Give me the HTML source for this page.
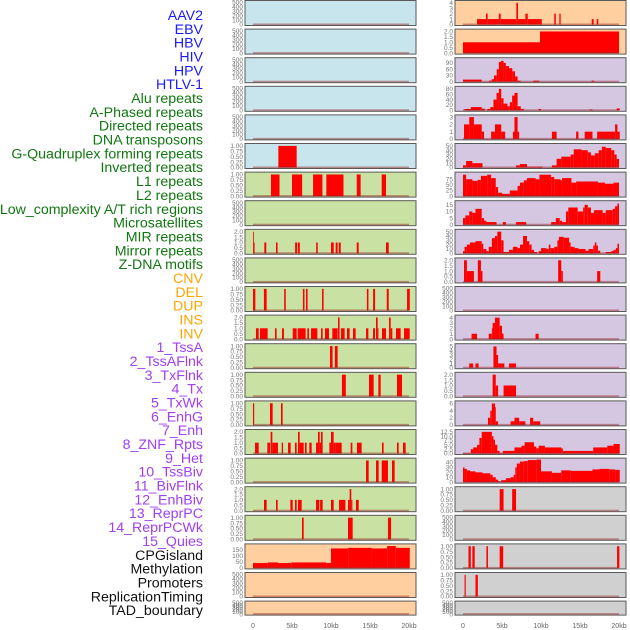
<!DOCTYPE html>
<html><head><meta charset="utf-8"><style>
html,body{margin:0;padding:0;background:#fff;}
svg{display:block;font-family:"Liberation Sans",sans-serif;}
</style></head><body>
<svg id="chart" width="630" height="630" xmlns="http://www.w3.org/2000/svg"></svg>
<script>
const labelNames = ["AAV2","EBV","HBV","HIV","HPV","HTLV-1","Alu repeats","A-Phased repeats","Directed repeats","DNA transposons","G-Quadruplex forming repeats","Inverted repeats","L1 repeats","L2 repeats","Low_complexity A/T rich regions","Microsatellites","MIR repeats","Mirror repeats","Z-DNA motifs","CNV","DEL","DUP","INS","INV","1_TssA","2_TssAFlnk","3_TxFlnk","4_Tx","5_TxWk","6_EnhG","7_Enh","8_ZNF_Rpts","9_Het","10_TssBiv","11_BivFlnk","12_EnhBiv","13_ReprPC","14_ReprPCWk","15_Quies","CPGisland","Methylation","Promoters","ReplicationTiming","TAD_boundary"];
const labelColors = ["#1a1aff","#1a1aff","#1a1aff","#1a1aff","#1a1aff","#1a1aff","#117711","#117711","#117711","#117711","#117711","#117711","#117711","#117711","#117711","#117711","#117711","#117711","#117711","#ffa500","#ffa500","#ffa500","#ffa500","#ffa500","#a040f0","#a040f0","#a040f0","#a040f0","#a040f0","#a040f0","#a040f0","#a040f0","#a040f0","#a040f0","#a040f0","#a040f0","#a040f0","#a040f0","#a040f0","#111","#111","#111","#111","#111"];
const xTicks = [0,5,10,15,20];
const xTickLabels = ["0","5kb","10kb","15kb","20kb"];

const T500 = [0,100,200,300,400,500], T500L = ["0","100","200","300","400","500"];
const T1 = [0,0.25,0.5,0.75,1], T1L = ["0.00","0.25","0.50","0.75","1.00"];
const T2 = [0,0.5,1,1.5,2], T2L = ["0.0","0.5","1.0","1.5","2.0"];

// segments: [startKb, endKb, value]
const L6 = [[3.25,5.6,1]];
const L7 = [[2.3,3.4,1],[5.0,6.3,1],[7.7,8.9,1],[9.4,11.6,1],[13.3,13.8,1],[16.5,17.05,1]];
const L9 = [[0,0.1,2],[0.1,0.2,1],[1.45,1.7,1],[2.95,3.15,1],[5.4,5.65,1],[5.75,6.0,1],[8.1,8.3,1],[10,10.35,1],[10.6,10.85,1],[11,11.25,1],[13.3,13.55,1],[17.05,17.4,1]];
const L11 = [[0,0.3,1],[1.4,1.75,1],[4,4.2,1],[6.4,6.6,1],[6.8,7.0,1],[8.85,9.05,1],[14.6,14.8,1],[15.4,15.65,1],[17.15,17.4,1],[19.75,20.1,1]];
const L12 = [[0.38,0.73,1],[0.9,1.88,1],[2.82,3.03,1],[3.72,3.97,1],[5.09,5.6,1],[5.73,6.75,1],[6.97,7.18,1],[7.44,8.25,1],[8.72,8.93,1],[9.23,9.74,1],[10.17,10.85,1],[10.9,11.1,2],[11.28,11.75,1],[12.05,12.39,1],[12.82,13.16,1],[14.49,14.79,1],[15.38,15.64,1],[15.77,15.98,2],[15.98,16.07,1],[16.54,17.05,1],[17.44,17.65,2],[17.65,17.86,1],[18.33,18.93,1],[19.36,20.09,1]];
const L13 = [[9.87,10.2,1],[10.5,10.85,1]];
const L14 = [[11.4,11.9,1],[14.87,15.47,1],[16.07,16.37,1],[18.46,19.1,1]];
const L15 = [[0,0.15,1],[2.18,2.52,1],[3.59,3.8,1]];
const L16 = [[0.26,0.73,1],[1.84,2.18,1],[2.26,2.48,2],[2.48,3.2,1],[3.68,3.85,1],[4.49,4.83,1],[5.38,5.6,1],[5.77,5.98,2],[5.98,6.5,1],[6.67,6.88,1],[7.22,7.52,1],[8.08,8.33,1],[8.33,8.55,2],[8.55,8.72,1],[8.72,8.93,2],[9.79,10.0,1],[10.0,10.34,2],[10.34,10.6,1],[10.6,11.37,1],[12.52,12.74,1],[13.33,13.93,1],[16.54,16.75,1],[18.46,18.68,1],[19.23,19.57,1]];
const L17 = [[14.49,14.83,1],[15.77,16.11,1],[16.5,17.3,1],[17.82,18.16,1]];
const L18 = [[1.41,1.75,1],[2.95,3.16,1],[4.79,5.09,1],[5.38,5.6,1],[5.77,6.24,1],[8.08,8.5,1],[8.6,8.93,1],[10,10.34,1],[11.03,11.84,1],[12.18,12.39,1],[12.39,12.6,2],[12.6,12.74,1],[13.2,13.55,1]];
const L19 = [[6.28,6.5,1],[12.18,12.78,1],[17.3,17.7,1]];
const L20 = [[0,1.9,40],[1.9,3.2,45],[3.2,4.9,40],[4.9,9.4,45],[9.4,10,40],[10,12.2,160],[12.2,15.2,165],[15.2,17.2,160],[17.2,18.3,180],[18.3,20.1,165]];

const R1 = [[1.8,2.95,1],[2.95,3.16,2],[3.16,4.6,1],[4.6,4.83,2],[4.83,6.84,1],[6.84,7.05,4],[7.05,8.0,1],[8.0,8.3,2],[8.3,10.1,1],[11.7,11.9,2],[12.35,12.52,2],[16.5,16.75,1],[17.14,17.35,1]];
const R2 = [[0,9.87,1],[9.87,20,2]];
const R3 = [[0,2.4,10],[3.33,3.68,5],[3.68,3.97,12],[3.97,4.32,30],[4.32,4.6,60],[4.6,4.87,95],[4.87,5.2,100],[5.2,5.5,90],[5.5,5.9,75],[5.9,6.32,65],[6.32,6.67,50],[6.67,7.0,25],[7.0,7.4,5],[9.0,9.8,5],[16.5,16.8,5]];
const R4 = [[0.2,1.0,5],[1.0,2.4,12],[2.4,2.8,6],[3.1,3.5,5],[3.5,3.9,12],[3.9,4.3,40],[4.3,4.6,65],[4.6,4.9,80],[4.9,5.2,45],[5.2,5.7,25],[5.7,6.0,15],[6.0,6.3,30],[6.3,6.6,55],[6.6,7.0,65],[7.0,7.4,15],[7.4,7.8,5],[9.7,10,5],[16.2,16.6,3],[19.7,20.1,7]];
const R5 = [[0.13,0.8,2],[0.8,1.4,3],[1.4,2.4,2],[2.4,2.7,1],[3.6,4.1,1],[4.1,4.9,2],[4.9,5.4,1],[6.4,6.6,1],[6.6,7.0,3],[7.0,7.2,1],[11.4,12.0,1],[14.5,14.8,1],[15.6,16.6,1],[17.2,19.5,1],[19.5,19.8,2],[19.8,20.1,1]];
const R6 = [[0,0.4,5],[0.4,1.2,15],[1.2,2.5,10],[6.8,7.3,5],[7.3,8.2,8],[8.2,10.2,2],[11.4,12,5],[12,12.6,20],[12.6,13.8,25],[13.8,14.2,30],[14.2,15.2,42],[15.2,16.0,40],[16.0,16.4,35],[16.4,16.9,28],[16.9,17.4,33],[17.4,17.8,40],[17.8,18.3,48],[18.3,19.0,45],[19.0,19.4,40],[19.4,19.7,30],[19.7,20.0,20]];
const R7 = [[0,0.4,95],[0.4,1.2,75],[1.2,1.9,68],[1.9,2.3,72],[2.3,3.1,90],[3.1,3.6,95],[3.6,4.2,80],[4.2,4.5,40],[4.5,5.0,15],[5.0,6.0,10],[6.0,7.0,25],[7.0,7.3,45],[7.3,7.8,60],[7.8,8.2,70],[8.2,9.3,80],[9.3,9.8,75],[9.8,11.3,95],[11.3,11.7,85],[11.7,12.5,75],[12.5,12.7,70],[12.7,13.9,80],[13.9,14.5,60],[14.5,17.3,65],[17.3,18.2,60],[18.2,19.3,55],[19.3,20,60]];
const R8 = [[0,0.3,5],[0.3,0.8,7],[0.8,1.2,10],[1.2,1.6,9],[1.6,2.4,12],[2.4,2.7,5],[2.7,3.0,3],[3.0,4.3,2],[5.1,5.5,2],[6.8,8.1,2],[11.3,11.9,2],[11.9,12.4,5],[12.4,12.7,3],[12.7,13.2,2],[13.2,13.5,10],[13.5,14.7,13],[14.7,15.4,10],[15.4,15.6,13],[15.6,16,15],[16,16.4,13],[16.4,16.8,9],[16.8,17.9,11],[17.9,18.3,9],[18.3,19.2,11],[19.2,19.5,12],[19.5,19.8,14],[19.8,20,16]];
const R9 = [[0,0.2,5],[0.2,0.5,15],[0.5,0.9,20],[0.9,1.6,25],[1.6,2.4,28],[2.4,2.6,22],[2.6,3.0,10],[3.0,3.3,5],[3.3,3.7,15],[3.7,4.1,35],[4.1,4.4,40],[4.4,4.9,50],[4.9,5.2,30],[5.2,5.9,3],[5.9,6.4,8],[6.4,7.0,15],[7.0,7.3,12],[7.3,7.7,20],[7.7,8.2,40],[8.2,8.5,28],[8.5,8.8,20],[8.8,9.1,8],[9.1,9.5,3],[9.7,10,5],[10,10.7,12],[10.7,11,10],[11,11.2,20],[11.2,11.7,12],[11.7,12.1,15],[12.1,12.3,30],[12.3,12.9,38],[12.9,13.6,36],[13.6,13.8,25],[13.8,14.3,15],[14.3,14.8,12],[14.8,15.7,10],[15.7,16.1,6],[16.1,16.7,10],[16.7,16.9,18],[16.9,17.1,25],[17.1,17.3,18],[17.3,17.6,6],[18.3,19,3],[19,19.3,5],[19.3,19.6,8],[19.6,19.8,12],[19.8,20,22]];
const R10 = [[0.13,0.5,2],[0.5,1.4,1],[1.9,2.3,2],[2.3,2.5,1],[12.2,12.6,2],[12.6,12.8,1],[17.2,17.6,1]];
const R12 = [[1.1,1.8,1],[3.3,3.7,1],[3.7,3.8,2],[3.8,4.1,3],[4.1,4.7,4],[4.7,5.0,2.5],[5.0,5.2,1],[9.3,9.7,1]];
const R13 = [[0.8,1.3,1],[1.6,2.0,1],[3.9,4.3,5],[4.3,4.5,3],[4.5,5.3,1],[5.9,6.8,1]];
const R14 = [[3.8,4.2,2],[4.2,4.5,1],[5.2,6.8,1]];
const R15 = [[3.2,3.5,2],[3.5,3.7,4],[3.7,4.1,6],[4.1,4.2,5],[4.2,4.5,1],[6.1,6.6,1],[6.6,7.2,2],[7.2,8.0,1],[8.6,9.0,2],[9.0,9.9,1]];
const R16 = [[0,1,0.3],[1,1.3,2.5],[1.3,1.8,3.5],[1.8,2.1,5],[2.1,2.4,9],[2.4,3.7,12.5],[3.7,3.9,10],[3.9,4.1,8],[4.1,4.4,5],[4.4,4.7,1.5],[4.7,5.1,0.3],[5.1,6.6,1.5],[6.6,7.5,3.5],[7.5,7.9,4.5],[7.9,9.1,6.5],[9.1,9.4,4],[9.4,9.7,3],[9.7,10.5,4.5],[10.5,12.6,3.5],[12.6,12.8,3],[12.8,16.7,1.5],[16.7,18.5,3.5],[18.5,19.3,4.5],[19.3,20.1,5.5]];
const R17 = [[0,0.2,30],[0.2,0.5,27],[0.5,0.9,24],[0.9,1.6,22],[1.6,2.5,20],[2.5,3.5,18],[3.5,3.8,15],[3.8,4.2,10],[4.2,4.5,5],[4.5,4.7,2],[4.7,4.9,0.5],[4.9,5.5,4],[5.5,6.1,8],[6.1,6.5,10],[6.5,6.7,15],[6.7,6.9,30],[6.9,7.3,38],[7.3,7.8,42],[7.8,8.3,43],[8.3,9.4,45],[9.4,10,46],[10,11.4,22],[11.4,12.6,19],[12.6,13.8,24],[13.8,16.6,23],[16.6,17.5,26],[17.5,18.8,27],[18.8,19.5,26],[19.5,20.1,25]];
const R18 = [[4.7,5.2,1],[6.3,6.8,1]];
const R20 = [[0.7,1.0,1],[1.2,1.5,1],[3.0,3.2,1],[4.7,5.15,1],[19.75,20.05,1]];
const R21 = [[0.2,0.35,1],[1.6,1.9,1]];

const leftSeries = [[],[],[],[],[],L6,L7,[],L9,[],L11,L12,L13,L14,L15,L16,L17,L18,L19,L20,[],[]];
const rightSeries = [R1,R2,R3,R4,R5,R6,R7,R8,R9,R10,[],R12,R13,R14,R15,R16,R17,R18,[],R20,R21,[]];
const leftYmax = [510,510,510,510,510,1.04,1.04,510,2.08,510,1.04,2.08,1.04,1.04,1.04,2.08,1.04,2.08,1.04,185,510,510];
const rightYmax = [4.15,2.08,108,84,3.1,52,100,17,52,2.08,510,4.2,5.3,2.08,6.3,13,46,1.04,510,1.04,1.04,510];
const leftTicks = [T500,T500,T500,T500,T500,T1,T1,T500,T2,T500,T1,T2,T1,T1,T1,T2,T1,T2,T1,[0,50,100,150],T500,T500];
const leftTickLabels = [T500L,T500L,T500L,T500L,T500L,T1L,T1L,T500L,T2L,T500L,T1L,T2L,T1L,T1L,T1L,T2L,T1L,T2L,T1L,["0","50","100","150"],T500L,T500L];
const rightTicks = [[0,1,2,3,4],T2,[0,30,60,90],[0,20,40,60,80],[0,1,2,3],[0,10,20,30,40,50],[0,25,50,75],[0,5,10,15],[0,10,20,30,40,50],T2,T500,[0,1,2,3,4],[0,1,2,3,4,5],T2,[0,2,4,6],[0,2.5,5,7.5,10,12.5],[0,10,20,30,40],T1,T500,T1,T1,T500];
const rightTickLabels = [["0","1","2","3","4"],["0.0","0.5","1.0","1.5","2.0"],["0","30","60","90"],["0","20","40","60","80"],["0","1","2","3"],["0","10","20","30","40","50"],["0","25","50","75"],["0","5","10","15"],["0","10","20","30","40","50"],T2L,T500L,["0","1","2","3","4"],["0","1","2","3","4","5"],T2L,["0","2","4","6"],["0.0","2.5","5.0","7.5","10.0","12.5"],["0","10","20","30","40"],T1L,T500L,T1L,T1L,T500L];
const leftColors = ["#c8e4ec","#c8e4ec","#c8e4ec","#c8e4ec","#c8e4ec","#c8e4ec","#c9e1a2","#c9e1a2","#c9e1a2","#c9e1a2","#c9e1a2","#c9e1a2","#c9e1a2","#c9e1a2","#c9e1a2","#c9e1a2","#c9e1a2","#c9e1a2","#c9e1a2","#ffcfa0","#ffcfa0","#ffcfa0"];
const rightColors = ["#ffcfa0","#ffcfa0","#d5c6e2","#d5c6e2","#d5c6e2","#d5c6e2","#d5c6e2","#d5c6e2","#d5c6e2","#d5c6e2","#d5c6e2","#d5c6e2","#d5c6e2","#d5c6e2","#d5c6e2","#d5c6e2","#d5c6e2","#d0d0d0","#d0d0d0","#d0d0d0","#d0d0d0","#d0d0d0"];

const NS = "http://www.w3.org/2000/svg";
const svg = document.getElementById("chart");
function mk(tag, attrs, parent){ const e=document.createElementNS(NS,tag); for(const k in attrs) e.setAttribute(k,attrs[k]); (parent||svg).appendChild(e); return e; }

// labels
labelNames.forEach((n,i)=>{
  const t = mk("text",{x:203,y:20+i*13.84,"text-anchor":"end","font-size":"14.2",fill:labelColors[i]});
  
  
  t.textContent = n;
});

const cols = [
  {x0:245,x1:416,zero:253,series:leftSeries,ymax:leftYmax,ticks:leftTicks,tl:leftTickLabels,colors:leftColors,name:"left"},
  {x0:455,x1:626,zero:463,series:rightSeries,ymax:rightYmax,ticks:rightTicks,tl:rightTickLabels,colors:rightColors,name:"right"}
];
const KB = 7.8;
cols.forEach(c=>{
  const xs = kb => c.zero + kb*KB;
  for(let i=0;i<22;i++){
    const top = 0.5 + 28.6*i;
    const h = i===21 ? 14 : 25;
    const g = mk("g",{});
    
    
    const bg = mk("rect",{x:c.x0,y:top,width:c.x1-c.x0,height:h,fill:c.colors[i],stroke:"#5a5a5a","stroke-width":1},g);
    
    
    const y0 = top + h - 1, y1 = top + 1.5;
    const ys = v => y0 - (v / c.ymax[i]) * (y0 - y1);
    c.series[i].forEach(s=>{
      const r = mk("rect",{x:xs(s[0]),y:ys(s[2]),width:Math.max(0.8,xs(s[1])-xs(s[0])),height:y0-ys(s[2]),fill:"#ff0000"},g);
      
      
    });
    const bl = mk("rect",{x:xs(0),y:y0-1,width:xs(20)-xs(0),height:1.6,fill:"rgba(150,30,30,0.45)"},g);
    
    
    c.ticks[i].forEach((tv,j)=>{
      const t = mk("text",{x:c.x0-2,y:ys(tv)+2.2,"text-anchor":"end","font-size":"6.5",fill:"#777"},g);
      
      
      t.textContent = c.tl[i][j];
    });
  }
  xTicks.forEach((v,j)=>{
    const t = mk("text",{x:xs(v),y:628,"text-anchor":"middle","font-size":"7",fill:"#666"});
    
    
    t.textContent = xTickLabels[j];
  });
});
</script>
</body></html>
